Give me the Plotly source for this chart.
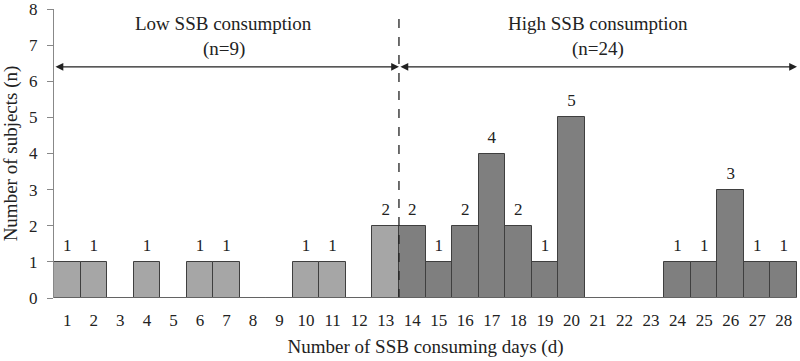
import plotly.graph_objects as go

days = list(range(1, 29))
counts = [1, 1, 0, 1, 0, 1, 1, 0, 0, 1, 1, 0, 2, 2, 1, 2, 4, 2, 1, 5, 0, 0, 0, 1, 1, 3, 1, 1]
low_days = days[:13]
low_counts = counts[:13]
high_days = days[13:]
high_counts = counts[13:]

FONT = "Liberation Serif, Times New Roman, DejaVu Serif, serif"

fig = go.Figure()
fig.add_trace(go.Bar(x=low_days, y=low_counts, width=1,
                     marker=dict(color="#A6A6A6", line=dict(color="#3F3F3F", width=1))))
fig.add_trace(go.Bar(x=high_days, y=high_counts, width=1,
                     marker=dict(color="#7F7F7F", line=dict(color="#3F3F3F", width=1))))

lab_x = [d for d, c in zip(days, counts) if c > 0]
lab_y = [c + 0.42 for c in counts if c > 0]
lab_t = [str(c) for c in counts if c > 0]
fig.add_trace(go.Scatter(x=lab_x, y=lab_y, text=lab_t, mode="text", cliponaxis=False,
                         textfont=dict(family=FONT, size=17, color="#222")))

# dashed separator
fig.add_shape(type="line", x0=13.5, x1=13.5, y0=0, y1=7.9, xref="x", yref="y",
              line=dict(color="#222", width=1.3, dash="dash"))

# arrows
arrow_y = 6.4
for (x0, x1) in [(0.5, 13.5), (13.5, 28.5)]:
    fig.add_annotation(x=x1, y=arrow_y, ax=x0, ay=arrow_y, xref="x", yref="y", axref="x", ayref="y",
                       showarrow=True, arrowhead=2, arrowside="end+start", arrowsize=1.3, arrowwidth=1.2,
                       arrowcolor="#222", text="")

for x, t1, t2 in [(6.9, "Low SSB consumption", "(n=9)"), (21, "High SSB consumption", "(n=24)")]:
    fig.add_annotation(x=x, y=7.6, text=t1, showarrow=False, xref="x", yref="y",
                       font=dict(family=FONT, size=19, color="#222"))
    fig.add_annotation(x=x, y=6.88, text=t2, showarrow=False, xref="x", yref="y",
                       font=dict(family=FONT, size=19, color="#222"))

fig.update_layout(
    width=800, height=361, margin=dict(l=54, r=3, t=9, b=63),
    plot_bgcolor="white", paper_bgcolor="white", showlegend=False, bargap=0,
    font=dict(family=FONT, size=16, color="#222"),
    xaxis=dict(range=[0.5, 28.5], tickmode="array", tickvals=days, ticktext=[str(d) for d in days],
               showgrid=False, zeroline=False, showline=False, ticks="", automargin=False,
               ticklabeloverflow="allow", ticklabelstandoff=10,
               title=dict(text="Number of SSB consuming days (d)", font=dict(family=FONT, size=19), standoff=10),
               tickfont=dict(family=FONT, size=17)),
    yaxis=dict(range=[0, 8], tickvals=list(range(0, 9)), showgrid=False, zeroline=False, showline=True,
               linecolor="#888", linewidth=1, automargin=False, ticklabeloverflow="allow",
               ticks="outside", ticklen=6, tickcolor="#888", ticklabelstandoff=6,
               title=dict(text="Number of subjects (n)", font=dict(family=FONT, size=19), standoff=12),
               tickfont=dict(family=FONT, size=17)),
)
fig.add_shape(type="line", x0=0.3, x1=28.5, y0=0, y1=0, xref="x", yref="y", line=dict(color="#888", width=1.2))

fig.write_html("out.html", config={"displayModeBar": False},
               post_script="document.body.style.margin='0';document.body.style.overflow='hidden';")
